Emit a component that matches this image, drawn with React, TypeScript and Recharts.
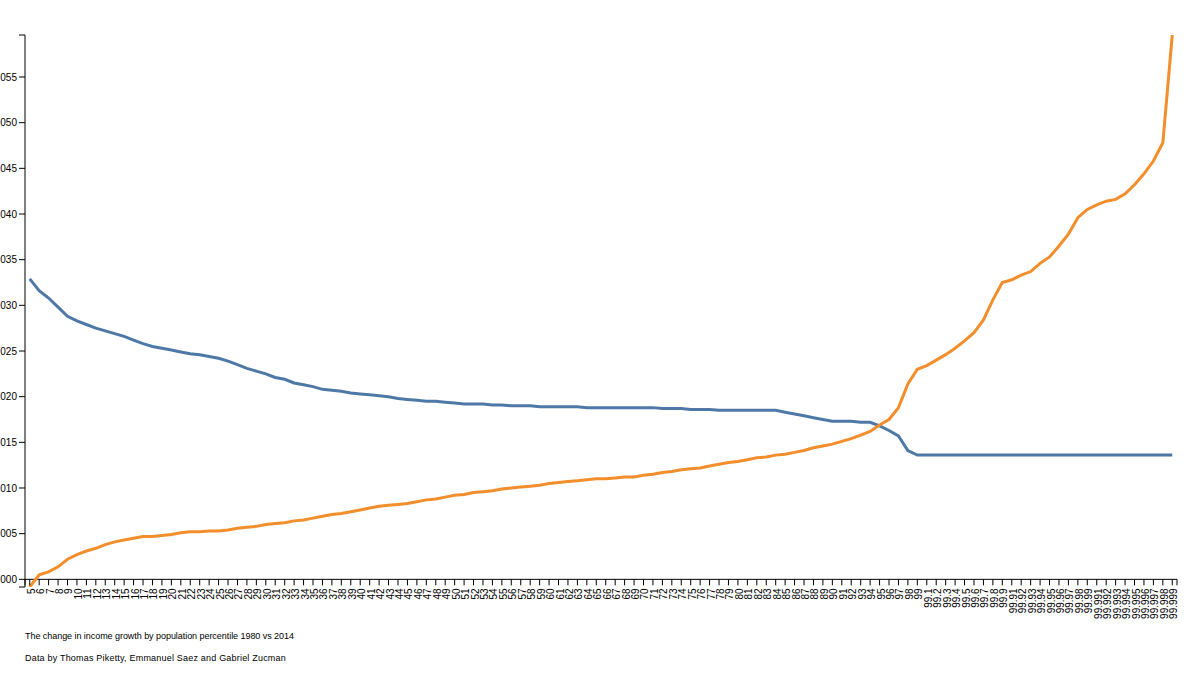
import React from 'react';
import { LineChart, Line, XAxis, YAxis, ReferenceLine } from 'recharts';

const percentiles: string[] = [
  '5','6','7','8','9','10','11','12','13','14','15','16','17','18','19','20','21','22','23','24',
  '25','26','27','28','29','30','31','32','33','34','35','36','37','38','39','40','41','42','43','44',
  '45','46','47','48','49','50','51','52','53','54','55','56','57','58','59','60','61','62','63','64',
  '65','66','67','68','69','70','71','72','73','74','75','76','77','78','79','80','81','82','83','84',
  '85','86','87','88','89','90','91','92','93','94','95','96','97','98','99',
  '99.1','99.2','99.3','99.4','99.5','99.6','99.7','99.8','99.9',
  '99.91','99.92','99.93','99.94','99.95','99.96','99.97','99.98','99.99',
  '99.991','99.992','99.993','99.994','99.995','99.996','99.997','99.998','99.999',
];

const share1980: number[] = [
  0.0329,0.0316,0.0308,0.0298,0.0288,0.0283,0.0279,0.0275,0.0272,0.0269,0.0266,0.0262,0.0258,0.0255,0.0253,0.0251,
  0.0249,0.0247,0.0246,0.0244,0.0242,0.0239,0.0235,0.0231,0.0228,0.0225,0.0221,0.0219,0.0215,0.0213,0.0211,
  0.0208,0.0207,0.0206,0.0204,0.0203,0.0202,0.0201,0.0200,0.0198,0.0197,0.0196,0.0195,0.0195,0.0194,0.0193,
  0.0192,0.0192,0.0192,0.0191,0.0191,0.0190,0.0190,0.0190,0.0189,0.0189,0.0189,0.0189,0.0189,0.0188,0.0188,
  0.0188,0.0188,0.0188,0.0188,0.0188,0.0188,0.0187,0.0187,0.0187,0.0186,0.0186,0.0186,0.0185,0.0185,0.0185,
  0.0185,0.0185,0.0185,0.0185,0.0183,0.0181,0.0179,0.0177,0.0175,0.0173,0.0173,0.0173,0.0172,0.0172,
  0.0168,0.0163,0.0157,0.0141,0.0136,
  0.0136,0.0136,0.0136,0.0136,0.0136,0.0136,0.0136,0.0136,0.0136,
  0.0136,0.0136,0.0136,0.0136,0.0136,0.0136,0.0136,0.0136,0.0136,
  0.0136,0.0136,0.0136,0.0136,0.0136,0.0136,0.0136,0.0136,0.0136,
];

const share2014: number[] = [
  -0.00084,0.00049,0.00082,0.00137,0.0022,0.0027,0.0031,0.0034,0.0038,0.0041,0.0043,0.0045,0.0047,0.0047,0.0048,0.0049,
  0.0051,0.0052,0.0052,0.0053,0.0053,0.0054,0.0056,0.0057,0.0058,0.0060,0.0061,0.0062,0.0064,0.0065,0.0067,
  0.0069,0.0071,0.0072,0.0074,0.0076,0.0078,0.0080,0.0081,0.0082,0.0083,0.0085,0.0087,0.0088,0.0090,0.0092,
  0.0093,0.0095,0.0096,0.0097,0.0099,0.0100,0.0101,0.0102,0.0103,0.0105,0.0106,0.0107,0.0108,0.0109,0.0110,
  0.0110,0.0111,0.0112,0.0112,0.0114,0.0115,0.0117,0.0118,0.0120,0.0121,0.0122,0.0124,0.0126,0.0128,0.0129,
  0.0131,0.0133,0.0134,0.0136,0.0137,0.0139,0.0141,0.0144,0.0146,0.0148,0.0151,0.0154,0.0158,0.0162,
  0.0169,0.0175,0.0188,0.0214,0.0230,
  0.0234,0.0240,0.0246,0.0253,0.0261,0.0270,0.0284,0.0306,0.0325,
  0.0328,0.0333,0.0337,0.0346,0.0353,0.0365,0.0378,0.0396,0.0405,
  0.0410,0.0414,0.0416,0.0422,0.0432,0.0444,0.0458,0.0478,0.0596,
];

const yTickValues: number[] = [0, 0.005, 0.01, 0.015, 0.02, 0.025, 0.03, 0.035, 0.04, 0.045, 0.05, 0.055];

const captionLines: string[] = [
  'The change in income growth by population percentile 1980 vs 2014',
  'Data by Thomas Piketty, Emmanuel Saez and Gabriel Zucman',
];
const captionSpacing: number[] = [-0.05, 0.2];

const W = 1200;
const H = 675;
const MARGIN = { top: 35, right: 23, bottom: 0, left: 0 };
const Y_AXIS_W = 25;
const X_AXIS_H = 88;
const PLOT_H = H - MARGIN.top - MARGIN.bottom - X_AXIS_H;
const PLOT_W = W - MARGIN.left - MARGIN.right - Y_AXIS_W;
const HALF_STEP = PLOT_W / percentiles.length / 2;

const data = percentiles.map((p, i) => ({ p, a: share1980[i], b: share2014[i] }));
const allVals = [...share1980, ...share2014];
const yMin = Math.min(...allVals);
const yMax = Math.max(...allVals);
const zeroShift = ((0 - yMin) / (yMax - yMin)) * PLOT_H;
const yTicks = [yMin, ...yTickValues, yMax];

const FONT = '"Liberation Sans", Arial, Helvetica, sans-serif';

const XTick = (props: any) => {
  const { x, y, payload, index } = props;
  const axisY = y - zeroShift;
  const last = percentiles.length - 1;
  return (
    <g>
      <line x1={x} x2={x} y1={axisY} y2={axisY + 6} stroke="#000" strokeWidth={1} />
      {index === 0 && (
        <line x1={x - HALF_STEP} x2={x - HALF_STEP} y1={axisY} y2={axisY + 6} stroke="#000" strokeWidth={1} />
      )}
      {index === last && (
        <line x1={x + HALF_STEP} x2={x + HALF_STEP} y1={axisY} y2={axisY + 6} stroke="#000" strokeWidth={1} />
      )}
      <text
        transform={`translate(${x + 5},${axisY + 9}) rotate(-90)`}
        textAnchor="end"
        fontSize={10}
        fontFamily={FONT}
        fill="#000"
      >
        {payload.value}
      </text>
    </g>
  );
};

export default function App() {
  return (
    <div style={{ position: 'absolute', left: 0, top: 0, width: W, height: H, fontFamily: FONT, background: '#fff' }}>
      <LineChart width={W} height={H} data={data} margin={MARGIN}>
        <XAxis
          dataKey="p"
          type="category"
          height={X_AXIS_H}
          axisLine={false}
          tickLine={false}
          tickSize={0}
          tickMargin={0}
          interval={0}
          padding={{ left: HALF_STEP, right: HALF_STEP }}
          tick={<XTick />}
        />
        <YAxis
          type="number"
          width={Y_AXIS_W}
          domain={[yMin, yMax]}
          ticks={yTicks}
          interval={0}
          allowDataOverflow={true}
          tickFormatter={(v: number) => (v === yMin || v === yMax ? '' : v.toFixed(3))}
          tick={{ fontSize: 10, fill: '#000', fontFamily: FONT }}
          tickLine={{ stroke: '#000' }}
          axisLine={{ stroke: '#000' }}
          tickSize={6}
          tickMargin={2}
        />
        <ReferenceLine y={0} stroke="#000" strokeWidth={1} ifOverflow="extendDomain" />
        <Line type="linear" dataKey="a" stroke="#4e79a7" strokeWidth={3} dot={false} isAnimationActive={false} />
        <Line type="linear" dataKey="b" stroke="#f28e2b" strokeWidth={3} dot={false} isAnimationActive={false} />
      </LineChart>
      {captionLines.map((t, i) => (
        <div
          key={i}
          style={{
            position: 'absolute',
            left: 25,
            top: 631.5 + i * 22,
            fontSize: 9,
            lineHeight: '9px',
            letterSpacing: `${captionSpacing[i]}px`,
            whiteSpace: 'nowrap',
            color: '#000',
          }}
        >
          {t}
        </div>
      ))}
    </div>
  );
}
